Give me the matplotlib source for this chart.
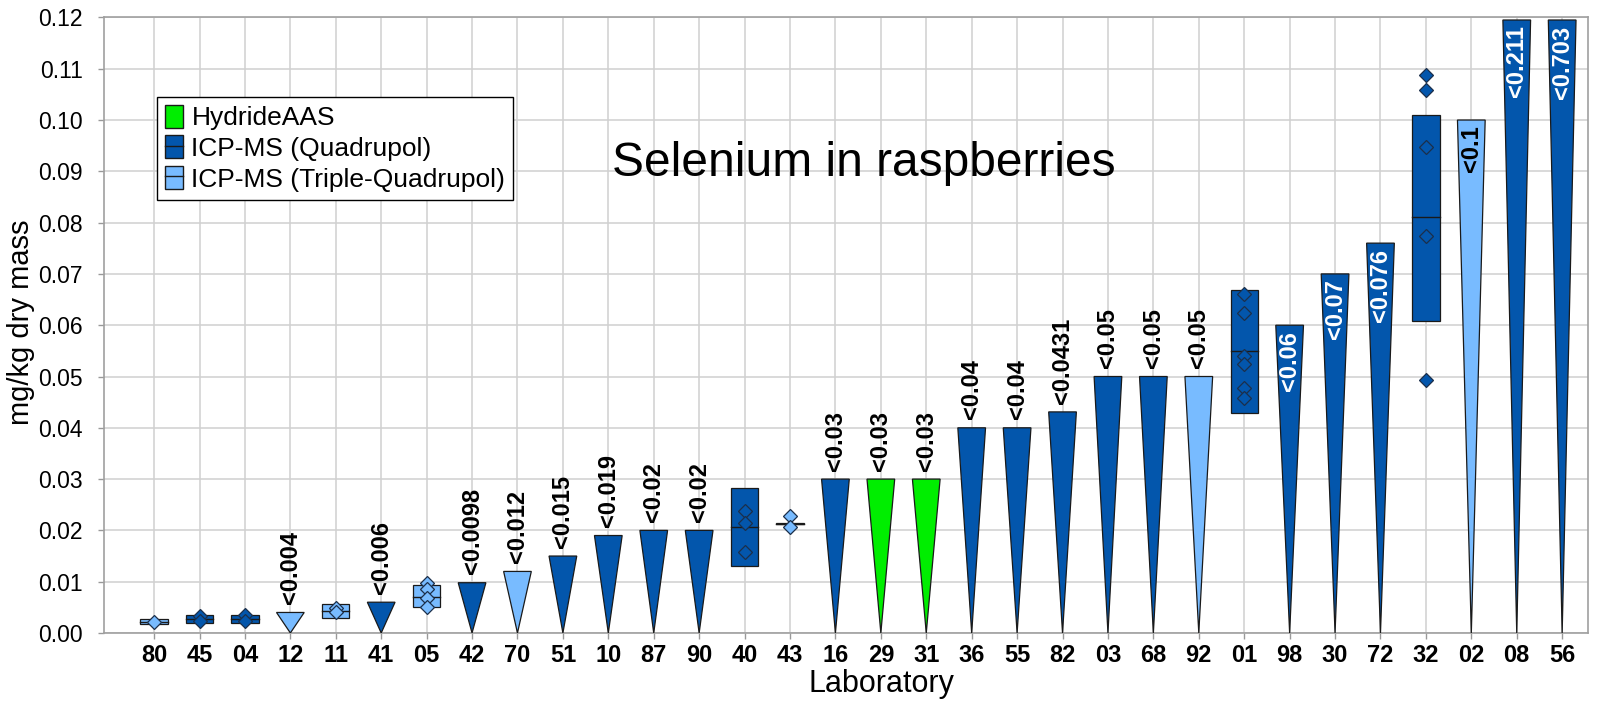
import numpy as np
import matplotlib
matplotlib.use("Agg")
import matplotlib.pyplot as plt
from matplotlib.patches import Polygon, Rectangle, Patch
from matplotlib.lines import Line2D

plt.rcParams['font.family'] = ['Liberation Sans', 'DejaVu Sans']

# laboratories in plotted order and their method
labs = ['80', '45', '04', '12', '11', '41', '05', '42', '70', '51', '10', '87', '90', '40', '43', '16',
        '29', '31', '36', '55', '82', '03', '68', '92', '01', '98', '30', '72', '32', '02', '08', '56']
methods = ['T', 'Q', 'Q', 'T', 'T', 'Q', 'T', 'Q', 'T', 'Q', 'Q', 'Q', 'Q', 'Q', 'T', 'Q',
           'H', 'H', 'Q', 'Q', 'Q', 'Q', 'Q', 'T', 'Q', 'Q', 'Q', 'Q', 'Q', 'T', 'Q', 'Q']

# "less than" results (mg/kg)
lod = {'12': 0.004, '41': 0.006, '42': 0.0098, '70': 0.012, '51': 0.015, '10': 0.019,
       '87': 0.02, '90': 0.02, '16': 0.03, '29': 0.03, '31': 0.03, '36': 0.04, '55': 0.04,
       '82': 0.0431, '03': 0.05, '68': 0.05, '92': 0.05, '98': 0.06, '30': 0.07, '72': 0.076,
       '02': 0.1, '08': 0.211, '56': 0.703}

# measured results: box low, centre line, box high, single values
box_low = {'80': 0.0018, '45': 0.0019, '04': 0.0019, '11': 0.0030, '05': 0.0051,
           '40': 0.0131, '43': 0.0212, '01': 0.0428, '32': 0.0609}
box_mid = {'80': 0.0022, '45': 0.0028, '04': 0.0028, '11': 0.0042, '05': 0.0070,
           '40': 0.0206, '43': 0.0213, '01': 0.0549, '32': 0.0810}
box_high = {'80': 0.0027, '45': 0.0036, '04': 0.0036, '11': 0.0057, '05': 0.0094,
            '40': 0.0282, '43': 0.0214, '01': 0.0669, '32': 0.1010}
singles = {'80': [0.0022],
           '45': [0.0033, 0.0023],
           '04': [0.0035, 0.0024],
           '11': [0.0048, 0.0040],
           '05': [0.0098, 0.0085, 0.0069, 0.0050],
           '40': [0.0237, 0.0215, 0.0157],
           '43': [0.0228, 0.0207],
           '01': [0.0661, 0.0623, 0.0540, 0.0525, 0.0477, 0.0459],
           '32': [0.1088, 0.1059, 0.0948, 0.0774, 0.0494]}

colors = {'H': '#00EE00', 'Q': '#0356AC', 'T': '#78BBFF'}
names = {'H': 'HydrideAAS', 'Q': 'ICP-MS (Quadrupol)', 'T': 'ICP-MS (Triple-Quadrupol)'}

ymax = 0.12

fig = plt.figure(figsize=(16.17, 7.03), dpi=100)
ax = fig.add_axes([0.0644, 0.0996, 0.9177, 0.8756])

w = 0.61
for i, (lab, m) in enumerate(zip(labs, methods)):
    c = colors[m]
    if lab in lod:
        v = lod[lab]
        top = min(v, ymax - 0.0005)
        tri = Polygon([(i - w / 2, top), (i + w / 2, top), (i, 0)], closed=True,
                      facecolor=c, edgecolor='#1a1a1a', lw=0.9, zorder=3)
        ax.add_patch(tri)
        txt = f"<{v:g}"
        if v >= 0.06:
            tc = 'white' if m == 'Q' else 'black'
            ax.annotate(txt, xy=(i, top), xytext=(0, -4), textcoords='offset points',
                        rotation=90, ha='center', va='top', fontsize=17,
                        fontweight='bold', color=tc, zorder=5)
        else:
            ax.annotate(txt, xy=(i, top), xytext=(0, 6), textcoords='offset points',
                        rotation=90, ha='center', va='bottom', fontsize=17,
                        fontweight='bold', color='black', zorder=5)
    else:
        lo, mid, hi = box_low[lab], box_mid[lab], box_high[lab]
        ax.add_patch(Rectangle((i - 0.3, lo), 0.6, hi - lo, facecolor=c,
                               edgecolor='#1a1a1a', lw=0.9, zorder=3))
        ax.plot([i - 0.3, i + 0.3], [mid, mid], color='#1a1a1a', lw=1.0, zorder=4)
        pts = singles[lab]
        ax.plot([i] * len(pts), pts, 'D', ms=7, mfc=c, mec='#1c2f4a', mew=0.9,
                ls='none', zorder=4)

ax.set_xlim(-1.1, 31.57)
ax.set_ylim(0, ymax)
ax.set_xticks(range(len(labs)))
ax.set_xticklabels(labs, fontsize=17, fontweight='bold')
yt = np.arange(0, 0.1201, 0.01)
ax.set_yticks(yt)
ax.set_yticklabels([f"{t:.2f}" for t in yt], fontsize=16.5)
ax.tick_params(axis='both', length=4.3, color='#999999', width=1)
ax.tick_params(axis='x', pad=3.5)
ax.tick_params(axis='y', pad=11)
ax.grid(True, color='#d0d0d0', lw=1.1, zorder=0)
ax.set_axisbelow(True)
for s in ax.spines.values():
    s.set_color('#a0a0a0')
    s.set_linewidth(1.2)

ax.set_ylabel('mg/kg dry mass', fontsize=21)
ax.yaxis.set_label_coords(-0.0465, 0.505)
ax.set_xlabel('Laboratory', fontsize=22)
ax.xaxis.set_label_coords(0.524, -0.058)

ax.text(0.342, 0.742, 'Selenium in raspberries', transform=ax.transAxes,
        fontsize=34.5, ha='left', va='baseline')

handles = [Patch(facecolor=colors['H'], edgecolor='#1a1a1a'),
           (Patch(facecolor=colors['Q'], edgecolor='#1a1a1a'), Line2D([], [], color='#1a1a1a', lw=1)),
           (Patch(facecolor=colors['T'], edgecolor='#1a1a1a'), Line2D([], [], color='#1a1a1a', lw=1))]
leg = ax.legend(handles, [names['H'], names['Q'], names['T']], loc='upper left',
                bbox_to_anchor=(0.0357, 0.871), borderaxespad=0, fontsize=19,
                fancybox=False, framealpha=1, edgecolor='black', handlelength=0.7,
                handleheight=0.95, handletextpad=0.3, labelspacing=0.2, borderpad=0.3)
leg.get_frame().set_linewidth(1.0)
leg.set_zorder(6)

fig.savefig('out.png', dpi=100)
